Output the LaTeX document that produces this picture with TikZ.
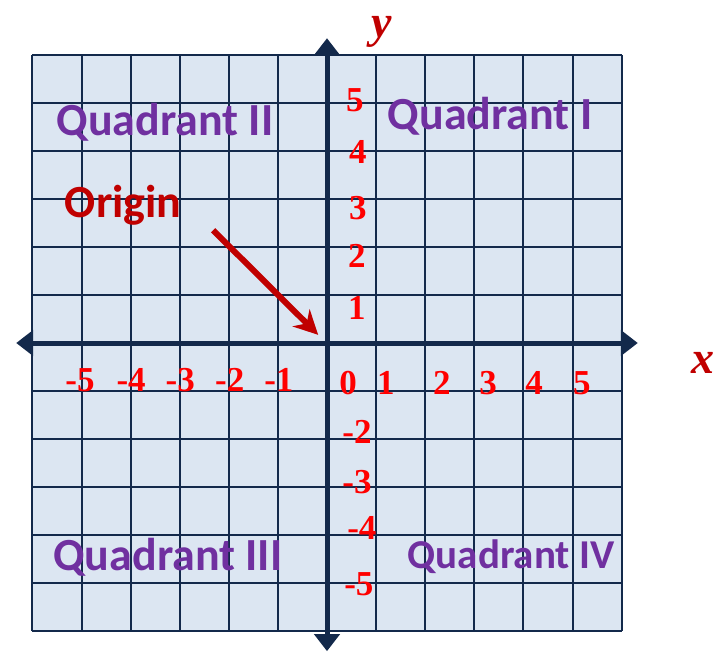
\documentclass[tikz,border=0pt]{standalone}
\usepackage{fontspec}
\setmainfont{Liberation Serif}
\newfontfamily\quadfont{Carlito}
\usetikzlibrary{arrows.meta, positioning}

\definecolor{cellfill}{HTML}{DCE6F2}
\definecolor{gridnavy}{HTML}{13294B}
\definecolor{quadpurple}{HTML}{7030A0}
\definecolor{darkred}{HTML}{C00000}

\begin{document}
\begin{tikzpicture}[
    x=49.1pt, y=48pt,
    gridline/.style={draw=gridnavy, line width=2pt},
    axis/.style={draw=gridnavy, line width=5pt, {Triangle[length=17pt,width=25pt]}-{Triangle[length=17pt,width=25pt]}},
    numlab/.style={text=red, font=\fontsize{35}{38}\selectfont\bfseries, inner sep=0pt},
    quadlab/.style={text=quadpurple, font=\fontsize{46}{50}\selectfont\quadfont\bfseries, inner sep=0pt},
    axislab/.style={text=darkred, font=\fontsize{46}{50}\selectfont\bfseries\itshape, inner sep=0pt},
    pointer/.style={draw=darkred, line width=6pt, -{Stealth[length=24pt,width=24pt]}}
]
    \useasboundingbox (-6.66,-6.458) rectangle (8.065,7.146);

    % the grid
    \fill[cellfill] (-6,-6) rectangle (6,6);
    \foreach \i in {-6,...,6} {
        \draw[gridline] (\i,-6) -- (\i,6);
        \draw[gridline] (-6,\i) -- (6,\i);
    }

    % axes
    \draw[axis] (-6.33,0) -- (6.33,0);
    \draw[axis] (0,-6.42) -- (0,6.35);
    \node[axislab] (xlab) at (7.66,-0.42) {x};
    \node[axislab] (ylab) at (1.12,6.49) {y};

    % numbers on the x axis
    \foreach \v/\px/\py in {-5/-5.03/-0.77, -4/-3.99/-0.77, -3/-2.99/-0.77, -2/-1.98/-0.77, -1/-0.98/-0.77,
                            0/0.43/-0.83, 1/1.2/-0.83, 2/2.34/-0.83, 3/3.28/-0.83, 4/4.22/-0.83, 5/5.19/-0.83}
        \node[numlab] (x\v) at (\px,\py) {\v};

    % numbers on the y axis
    \foreach \v/\px/\py in {5/0.57/5.06, 4/0.63/3.98, 3/0.63/2.81, 2/0.61/1.81, 1/0.61/0.73,
                            -2/0.61/-1.85, -3/0.61/-2.9, -4/0.71/-3.85, -5/0.65/-5.02}
        \node[numlab] (y\v) at (\px,\py) {\v};

    % quadrants
    \node[quadlab] (q1) at (3.32,4.73) {Quadrant I};
    \node[quadlab] (q2) at (-3.30,4.60) {Quadrant II};
    \node[quadlab] (q3) at (-3.24,-4.46) {Quadrant III};
    \node[quadlab, font=\fontsize{41}{44}\selectfont\quadfont\bfseries] (q4) at (3.75,-4.46) {Quadrant IV};

    % origin pointer
    \node[quadlab, text=darkred] (originlab) at (-4.15,2.875) {Origin};
    \coordinate (pointerstart) at (-2.32,2.35);
    \coordinate (pointerend) at (-0.18,0.17);
    \draw[pointer] (pointerstart) -- (pointerend);
\end{tikzpicture}
\end{document}
